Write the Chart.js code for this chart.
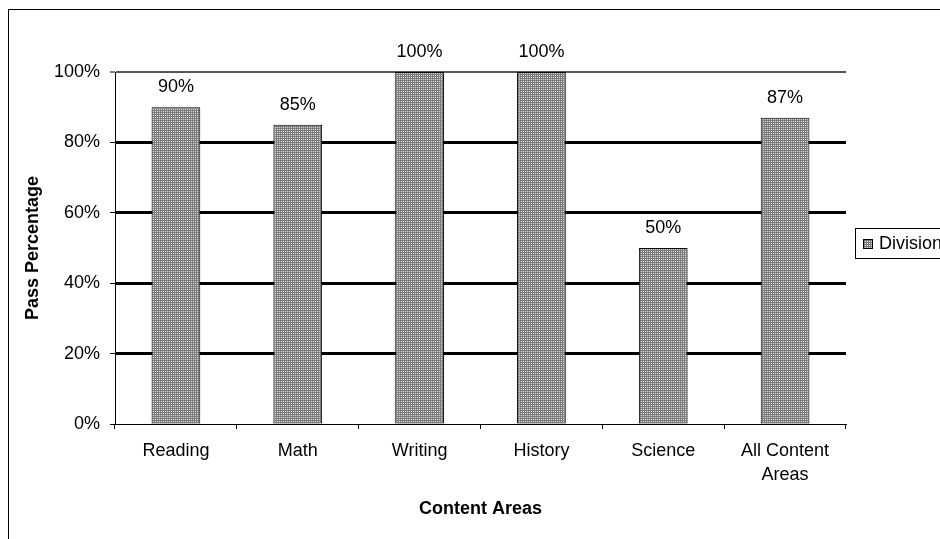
<!DOCTYPE html>
<html>
<head>
<meta charset="utf-8">
<script src="https://cdn.jsdelivr.net/npm/chart.js@4"></script>
<style>
  body { margin: 0; background: #fff; }
</style>
</head>
<body>
<canvas id="chart" width="940" height="539"></canvas>
<script>
const categories = ["Reading", "Math", "Writing", "History", "Science", ["All Content", "Areas"]];
const division = [90, 85, 100, 100, 50, 87];
const yTicks = [0, 20, 40, 60, 80, 100];
const seriesName = "Division";

const FONT = "'Liberation Sans', Arial, sans-serif";

// grey dotted fill like the old Excel pattern
function makePattern() {
  const c = document.createElement("canvas");
  c.width = 2;
  c.height = 2;
  const g = c.getContext("2d");
  g.fillStyle = "#7c7c7c";
  g.fillRect(0, 0, 2, 2);
  g.fillStyle = "#d8d8d8";
  g.fillRect(1, 1, 1, 1);
  return g.createPattern(c, "repeat");
}
const pattern = makePattern();

const decor = {
  id: "decor",
  beforeDraw(chart) {
    const ctx = chart.ctx;
    ctx.save();
    ctx.strokeStyle = "#000";
    ctx.lineWidth = 1;
    ctx.strokeRect(8.5, 9.5, 1200, 1200);
    ctx.restore();
  },
  afterDatasetsDraw(chart) {
    const ctx = chart.ctx;
    const meta = chart.getDatasetMeta(0);
    ctx.save();
    ctx.font = "18px " + FONT;
    ctx.fillStyle = "#000";
    ctx.textAlign = "center";
    ctx.textBaseline = "middle";
    meta.data.forEach((bar, i) => {
      ctx.fillText(division[i] + "%", bar.x, bar.y - 20);
    });

    // legend on the right, clipped by the page edge
    const area = chart.chartArea;
    const cy = (area.top + area.bottom) / 2 - 4;
    ctx.strokeStyle = "#000";
    ctx.lineWidth = 1;
    ctx.strokeRect(855.5, cy - 15.5, 200, 30);
    ctx.fillStyle = pattern;
    ctx.fillRect(863, cy - 5, 10, 10);
    ctx.strokeRect(863.5, cy - 4.5, 9, 9);
    ctx.fillStyle = "#000";
    ctx.textAlign = "left";
    ctx.fillText(seriesName, 879, cy);
    ctx.restore();
  }
};

new Chart(document.getElementById("chart"), {
  type: "bar",
  data: {
    labels: categories,
    datasets: [{
      label: seriesName,
      data: division,
      backgroundColor: pattern,
      borderColor: "#000",
      borderWidth: 1,
      borderSkipped: false,
      categoryPercentage: 1,
      barPercentage: 0.4
    }]
  },
  options: {
    responsive: false,
    animation: false,
    layout: { padding: { top: 72, right: 94, left: 0, bottom: 0 } },
    plugins: {
      legend: { display: false },
      tooltip: { enabled: false }
    },
    scales: {
      x: {
        afterFit: s => { s.height = 115; },
        grid: {
          offset: true,
          drawOnChartArea: false,
          drawTicks: true,
          tickLength: 5,
          color: "#000",
          lineWidth: 1
        },
        border: { display: true, color: "#000", width: 1 },
        ticks: {
          color: "#000",
          padding: 10,
          maxRotation: 0,
          font: { family: FONT, size: 18, lineHeight: 1.33 }
        },
        title: {
          display: true,
          text: "Content Areas",
          color: "#000",
          font: { family: FONT, size: 18, weight: "bold" },
          padding: { top: 0, bottom: 19 }
        }
      },
      y: {
        min: 0,
        max: 100,
        afterFit: s => { s.width = 115; },
        afterBuildTicks: s => { s.ticks = yTicks.map(v => ({ value: v })); },
        grid: {
          tickLength: 5,
          tickWidth: 1,
          tickColor: "#000",
          color: c => c.tick && c.tick.value === 100 ? "#555" : "#000",
          lineWidth: c => {
            if (!c.tick) return 1;
            if (c.tick.value === 0) return 1;
            if (c.tick.value === 100) return 2;
            return 3;
          }
        },
        border: { display: true, color: "#000", width: 1 },
        ticks: {
          color: "#000",
          padding: 10,
          callback: v => v + "%",
          font: { family: FONT, size: 18 }
        },
        title: {
          display: true,
          text: "Pass Percentage",
          color: "#000",
          font: { family: FONT, size: 18, weight: "bold" },
          padding: { top: 22, bottom: 0 }
        }
      }
    }
  },
  plugins: [decor]
});
</script>
</body>
</html>
